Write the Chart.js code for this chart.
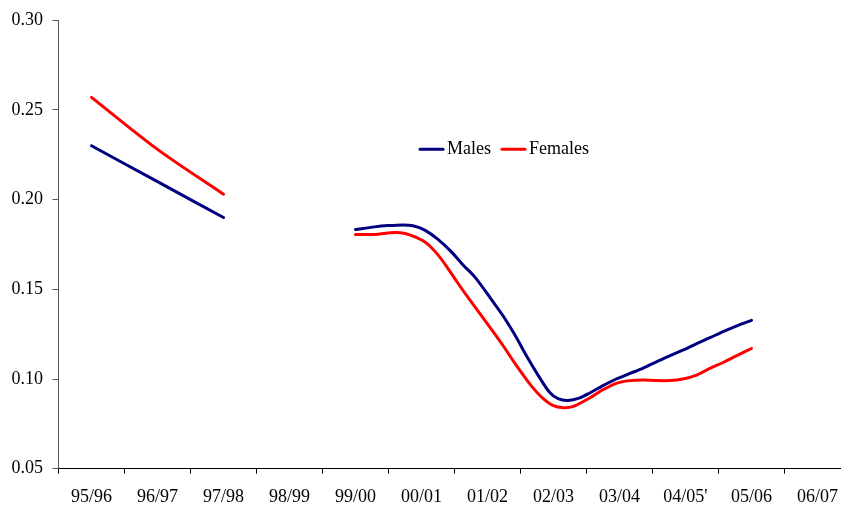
<!DOCTYPE html>
<html>
<head>
<meta charset="utf-8">
<script src="https://cdn.jsdelivr.net/npm/chart.js@4/dist/chart.umd.min.js"></script>
<style>
  html, body { margin: 0; padding: 0; background: #fff; overflow: hidden; width: 841px; height: 508px; }
  #wrap { position: absolute; left: 0; top: 0; width: 851px; height: 508px; }
</style>
</head>
<body>
<div id="wrap"><canvas id="c" width="851" height="508"></canvas></div>
<script>
// ---- data ----
const categories = ['95/96','96/97','97/98','98/99','99/00','00/01','01/02','02/03','03/04',"04/05'",'05/06','06/07'];
const yTicks = [0.05, 0.10, 0.15, 0.20, 0.25, 0.30];
const seriesNames = ['Males', 'Females'];

// first period: yearly values (category index)
const earlyPos = [0, 1, 2];
const malesEarly = [0.230, 0.210, 0.190];
const femalesEarly = [0.257, 0.228, 0.203];

// second period: values (fractional category index)
const malePos = [4.00,4.29,4.49,4.72,4.87,5.05,5.25,5.45,5.63,5.81,6.06,6.24,6.41,6.59,6.77,6.94,7.07,7.22,7.40,7.55,7.75,7.95,8.16,8.36,8.56,8.76,8.96,9.17,9.37,9.57,9.77,10.00];
const maleVals = [0.1833,0.1848,0.1855,0.1859,0.1854,0.1830,0.1778,0.1710,0.1636,0.1568,0.1443,0.1350,0.1249,0.1129,0.1019,0.0926,0.0890,0.0880,0.0895,0.0922,0.0963,0.1000,0.1031,0.1061,0.1096,0.1129,0.1161,0.1197,0.1230,0.1264,0.1295,0.1327];
const femalePos = [4.00,4.29,4.60,4.75,4.92,5.08,5.25,5.40,5.55,5.71,6.06,6.24,6.44,6.64,6.82,6.99,7.15,7.30,7.50,7.75,7.95,8.16,8.36,8.56,8.76,8.96,9.17,9.37,9.57,9.77,10.00];
const femaleVals = [0.1806,0.1806,0.1817,0.1811,0.1789,0.1756,0.1692,0.1617,0.1535,0.1452,0.1277,0.1184,0.1074,0.0973,0.0899,0.0853,0.0840,0.0847,0.0884,0.0940,0.0976,0.0991,0.0995,0.0991,0.0991,0.1000,0.1022,0.1059,0.1092,0.1129,0.1170];

const gapPos = 3;

function build(pos1, v1, pos2, v2) {
  const out = pos1.map((x, i) => ({x: x, y: v1[i]}));
  out.push({x: gapPos, y: null});
  pos2.forEach((x, i) => out.push({x: x, y: v2[i]}));
  return out;
}

const FONT = "'Liberation Serif', 'Times New Roman', serif";
const colors = ['#000080', '#FF0000'];

const legendPlugin = {
  id: 'inLegend',
  afterDraw(chart) {
    const ctx = chart.ctx;
    const a = chart.chartArea;
    const y = a.top + 129;
    let x = a.left + 361.5;
    ctx.save();
    ctx.font = '18px ' + FONT;
    ctx.textBaseline = 'middle';
    ctx.textAlign = 'left';
    chart.data.datasets.forEach((ds, i) => {
      ctx.strokeStyle = ds.borderColor;
      ctx.lineWidth = 3;
      ctx.lineCap = 'round';
      ctx.beginPath();
      ctx.moveTo(x, y);
      ctx.lineTo(x + 23, y);
      ctx.stroke();
      ctx.fillStyle = '#000';
      ctx.fillText(ds.label, x + 27, y);
      x += 27 + ctx.measureText(ds.label).width + 11;
    });
    ctx.restore();
  }
};

new Chart(document.getElementById('c'), {
  type: 'line',
  data: {
    labels: categories,
    datasets: [
      { label: seriesNames[0], data: build(earlyPos, malesEarly, malePos, maleVals), borderColor: colors[0], backgroundColor: colors[0] },
      { label: seriesNames[1], data: build(earlyPos, femalesEarly, femalePos, femaleVals), borderColor: colors[1], backgroundColor: colors[1] }
    ]
  },
  options: {
    responsive: false,
    animation: false,
    devicePixelRatio: 1,
    spanGaps: false,
    layout: { padding: { top: 16.7, left: 0, right: 0, bottom: 0 } },
    elements: {
      point: { radius: 0, hoverRadius: 0 },
      line: { borderWidth: 3, tension: 0.3, fill: false, borderCapStyle: 'round', borderJoinStyle: 'round' }
    },
    plugins: { legend: { display: false }, tooltip: { enabled: false } },
    scales: {
      x: {
        type: 'linear',
        min: -0.5,
        max: categories.length - 0.5,
        display: false
      },
      xc: {
        type: 'category',
        labels: categories,
        position: 'bottom',
        offset: true,
        afterFit(s) { s.height = 39.3; },
        border: { display: true, color: '#000', width: 1 },
        grid: { display: true, offset: true, drawOnChartArea: false, drawTicks: true, tickLength: 5, color: '#000' },
        ticks: { autoSkip: false, maxRotation: 0, minRotation: 0, padding: 13, color: '#000', font: { family: FONT, size: 18 } }
      },
      y: {
        type: 'linear',
        min: yTicks[0],
        max: yTicks[yTicks.length - 1],
        afterFit(s) { s.width = 58.5; },
        afterBuildTicks(s) { s.ticks = yTicks.map(v => ({value: v})); },
        border: { display: true, color: '#555', width: 1 },
        grid: { display: true, drawOnChartArea: false, drawTicks: true, tickLength: 6, color: '#555' },
        ticks: { padding: 9.4, color: '#000', font: { family: FONT, size: 18 }, callback: v => v.toFixed(2) }
      }
    }
  },
  plugins: [legendPlugin]
});
</script>
</body>
</html>
